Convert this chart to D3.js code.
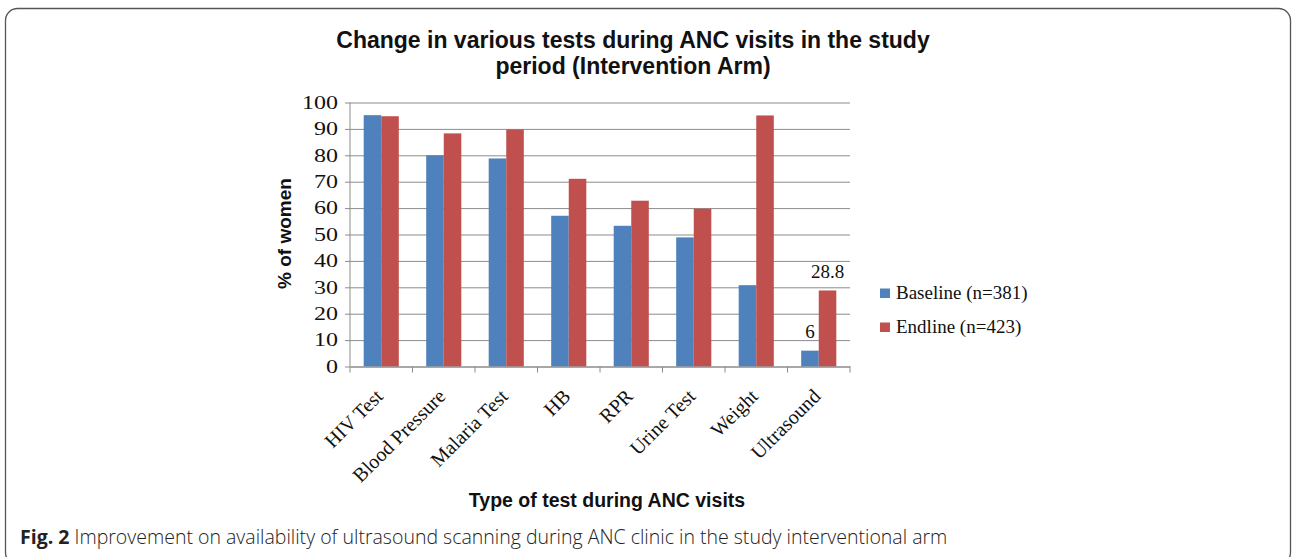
<!DOCTYPE html>
<html>
<head>
<meta charset="utf-8">
<script src="https://cdn.jsdelivr.net/npm/d3@7"></script>
<style>
  body { margin: 0; background: #fff; }
  svg { display: block; }
</style>
</head>
<body>
<svg id="chart" width="1296" height="557"></svg>
<script>
// data
var tests = ["HIV Test", "Blood Pressure", "Malaria Test", "HB", "RPR", "Urine Test", "Weight", "Ultrasound"];
var baseline = [95.2, 80.0, 78.8, 57.1, 53.3, 48.9, 30.8, 6];
var endline = [94.8, 88.3, 89.8, 71.1, 62.8, 59.8, 95.1, 28.8];
var seriesNames = ["Baseline (n=381)", "Endline (n=423)"];
var yTicks = [0, 10, 20, 30, 40, 50, 60, 70, 80, 90, 100];

var colors = ["#4F81BD", "#C0504D"];
var plotLeft = 350, plotRight = 850, plotTop = 102.5, plotBottom = 366.5;
var serif = "Liberation Serif, Times New Roman, serif";
var sans = "Liberation Sans, Arial, sans-serif";

var svg = d3.select('#chart');

// outer frame (bottom edge runs off the picture)
svg.append("rect")
    .attr("x", 5.5).attr("y", 8.5)
    .attr("width", 1285).attr("height", 556)
    .attr("rx", 12)
    .attr("fill", "none")
    .attr("stroke", "#555")
    .attr("stroke-width", 1.3);

var x = d3.scaleBand()
    .domain(tests)
    .range([plotLeft, plotRight]);

var x1 = d3.scaleBand()
    .domain([0, 1])
    .range([0, x.bandwidth()])
    .paddingOuter(0.78)
    .paddingInner(0);

var y = d3.scaleLinear()
    .domain([0, 100])
    .range([plotBottom, plotTop]);

// gridlines + y labels
var yAxis = d3.axisLeft(y)
    .tickValues(yTicks)
    .tickSize(-(plotRight - plotLeft))
    .tickPadding(12)
    .tickFormat(d3.format("d"));

var gy = svg.append('g')
    .attr("transform", "translate(" + plotLeft + ",0)")
    .call(yAxis);
gy.select(".domain").remove();
gy.selectAll(".tick line").attr("stroke", "#8c8c8c").attr("stroke-width", 1);
gy.selectAll(".tick text")
    .attr("font-family", serif)
    .attr("font-size", 18)
    .attr("fill", "#111")
    .attr("textLength", d => String(d).length * 12)
    .attr("lengthAdjust", "spacingAndGlyphs");
// small outer tick
gy.selectAll(".tick").append("line")
    .attr("x1", -5).attr("x2", 0)
    .attr("stroke", "#8c8c8c");

// vertical axis line
svg.append("line")
    .attr("x1", plotLeft).attr("x2", plotLeft)
    .attr("y1", plotTop).attr("y2", plotBottom)
    .attr("stroke", "#8c8c8c");

// bars
var rows = tests.map((t, i) => ({ test: t, vals: [baseline[i], endline[i]] }));

var groups = svg.selectAll("g.grp")
    .data(rows)
    .enter()
    .append("g")
    .attr("class", "grp")
    .attr("transform", d => "translate(" + x(d.test) + ",0)");

groups.selectAll("rect")
    .data(d => d.vals.map((v, k) => ({ k: k, v: v })))
    .enter()
    .append("rect")
    .attr("x", d => x1(d.k))
    .attr("y", d => y(d.v))
    .attr("width", x1.bandwidth())
    .attr("height", d => y(0) - y(d.v))
    .attr("fill", d => colors[d.k]);

// x axis
var xAxis = d3.axisBottom(x).tickSize(0).tickFormat("");
var gx = svg.append('g')
    .attr("transform", "translate(0," + plotBottom + ")")
    .call(xAxis);
gx.select(".domain").attr("stroke", "#8c8c8c");
// category boundary ticks
var bounds = tests.map(t => x(t)).concat([plotRight]);
svg.selectAll("line.bound")
    .data(bounds)
    .enter()
    .append("line")
    .attr("class", "bound")
    .attr("x1", d => d).attr("x2", d => d)
    .attr("y1", plotBottom).attr("y2", plotBottom + 6)
    .attr("stroke", "#8c8c8c");

// rotated category labels
svg.selectAll("text.cat")
    .data(tests)
    .enter()
    .append("text")
    .attr("class", "cat")
    .attr("transform", d => "translate(" + (x(d) + x.bandwidth() / 2 + 3) + "," + (plotBottom + 31) + ") rotate(-45)")
    .attr("text-anchor", "end")
    .attr("font-family", serif)
    .attr("font-size", 20)
    .attr("fill", "#111")
    .text(d => d);

// data labels on ultrasound
var last = tests.length - 1;
[baseline[last], endline[last]].forEach((v, k) => {
    svg.append("text")
        .attr("x", x(tests[last]) + x1(k) + x1.bandwidth() / 2)
        .attr("y", y(v) - 12.5)
        .attr("text-anchor", "middle")
        .attr("font-family", serif)
        .attr("font-size", 19)
        .attr("fill", "#111")
        .text(v);
});

// title
var titleLines = ["Change in various tests during ANC visits in the study", "period (Intervention Arm)"];
svg.selectAll("text.title")
    .data(titleLines)
    .enter()
    .append("text")
    .attr("class", "title")
    .attr("x", 633)
    .attr("y", (d, i) => 48 + i * 25.5)
    .attr("text-anchor", "middle")
    .attr("font-family", sans)
    .attr("font-weight", "bold")
    .attr("font-size", 23)
    .attr("fill", "#111")
    .text(d => d);

// axis titles
svg.append("text")
    .attr("transform", "translate(291," + ((plotTop + plotBottom) / 2 - 1) + ") rotate(-90)")
    .attr("text-anchor", "middle")
    .attr("font-family", sans)
    .attr("font-weight", "bold")
    .attr("font-size", 19)
    .attr("fill", "#111")
    .text("% of women");

svg.append("text")
    .attr("x", 607)
    .attr("y", 507)
    .attr("text-anchor", "middle")
    .attr("font-family", sans)
    .attr("font-weight", "bold")
    .attr("font-size", 19.5)
    .attr("fill", "#111")
    .text("Type of test during ANC visits");

// legend
var legend = svg.selectAll("g.leg")
    .data(seriesNames)
    .enter()
    .append("g")
    .attr("class", "leg")
    .attr("transform", (d, i) => "translate(880," + (293 + i * 34) + ")");
legend.append("rect")
    .attr("x", 0).attr("y", -4.5)
    .attr("width", 10).attr("height", 9.5)
    .attr("fill", (d, i) => colors[i]);
legend.append("text")
    .attr("x", 16).attr("y", 5.5)
    .attr("font-family", serif)
    .attr("font-size", 19)
    .attr("fill", "#111")
    .text(d => d);

// caption
var cap = svg.append("text")
    .attr("x", 20)
    .attr("y", 544)
    .attr("font-family", "Open Sans, Noto Sans, sans-serif")
    .attr("font-size", 19.5)
    .attr("fill", "#222");
cap.append("tspan").attr("font-weight", "bold").text("Fig. 2");
cap.append("tspan").attr("font-weight", 300).text(" Improvement on availability of ultrasound scanning during ANC clinic in the study interventional arm");
</script>
</body>
</html>
